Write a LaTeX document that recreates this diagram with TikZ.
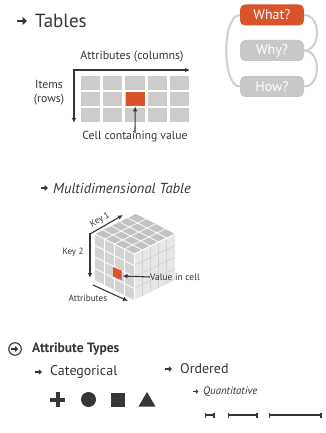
\documentclass[tikz,border=0pt]{standalone}
\usepackage{fontspec}
\setmainfont{PT Sans}
\usetikzlibrary{arrows.meta,calc}

\definecolor{accent}{HTML}{D9542A}
\definecolor{cellgrey}{HTML}{CCCCCC}
\definecolor{ink}{HTML}{363636}
\definecolor{boxgrey}{HTML}{C8C8C8}
\definecolor{loopgrey}{HTML}{CFCFCF}
\definecolor{cubetop}{HTML}{C2C2C2}
\definecolor{cubeleft}{HTML}{D3D3D3}
\definecolor{cuberight}{HTML}{E7E7E7}

% bullet arrow: start point, length, shaft width, head length, head width
\newcommand\arrowmark[5]{%
  \draw[ink, line width=#3, -{Triangle[length=#4,width=#5]}] (#1) -- ++(#2,0);}

\begin{document}
\begin{tikzpicture}[x=1pt,y=-1pt,
  txt/.style={inner sep=0pt, text=ink},
  ax/.style={draw=ink, line width=1.1pt, -{Latex[length=5pt,width=4.5pt]}},
  qbox/.style={rounded corners=5pt, minimum width=64pt, minimum height=21pt,
    inner sep=0pt, text=white, font=\fontsize{14}{14}\selectfont},
  loopline/.style={draw=loopgrey, line width=2pt},
  scalebar/.style={draw=ink, line width=1.8pt, {Bar[width=5pt]}-{Bar[width=5pt]}},
]
\useasboundingbox[fill=white] (0,0) rectangle (326,433);

% ---------- Tables ----------
\arrowmark{17,21}{10}{1.7pt}{4.5pt}{8pt}
\node[txt, anchor=base west, font=\fontsize{19}{19}\selectfont] (tabtitle) at (35,27.5) {Tables};

\foreach \c in {0,...,4}
  \foreach \r in {0,...,2}
    \fill[cellgrey] ({81+22.2*\c},{76+16.17*\r}) rectangle +(19.2,13.7);
\node[fill=accent, minimum width=19.2pt, minimum height=13.7pt, inner sep=0pt,
  anchor=north west] (cell) at (125.4,92.17) {};

\coordinate (org) at (74,70);
\coordinate (colend) at (190,70);
\coordinate (rowend) at (74,123);
\draw[ax, line cap=rect] (org) -- (colend);
\draw[ax, line cap=rect] (org) -- (rowend);

\node[txt, font=\fontsize{12}{12}\selectfont] (attrlab) at (132,57) {Attributes (columns)};
\node[txt, align=center, font=\fontsize{11.7}{14}\selectfont] (itemlab) at (49,93) {Items\\(rows)};
\node[txt, font=\fontsize{11.7}{12}\selectfont] (celllab) at (135,137) {Cell containing value};
\draw[ax] ([yshift=-1.5pt]celllab.north) -- (cell.south);

% ---------- What / Why / How ----------
\node[qbox, fill=accent] (what) at (272,15) {What?};
\node[qbox, fill=boxgrey] (why) at (272,50.5) {Why?};
\node[qbox, fill=boxgrey] (how) at (272,86.5) {How?};
\draw[loopline] (what.west) .. controls +(-18,0) and +(-18,0) .. (how.west);
\draw[loopline] (what.east) .. controls +(17,0) and +(17,0) .. (why.east);
\draw[loopline] (why.east) .. controls +(17,0) and +(17,0) .. (how.east);

% ---------- Multidimensional table ----------
\arrowmark{40.5,188}{7.5}{1.3pt}{3.5pt}{6pt}
\node[txt, anchor=west, font=\itshape\fontsize{14.5}{14.5}\selectfont] (mdtitle) at (53,188) {Multidimensional Table};

% cube faces (front corner at (134,254))
\fill[cubetop] (134,254) -- (95,234) -- (136,214) -- (175,234) -- cycle;
\fill[cubeleft] (134,254) -- (95,234) -- (95,280) -- (134,300) -- cycle;
\fill[cuberight] (134,254) -- (175,234) -- (175,280) -- (134,300) -- cycle;
% cube grid
\foreach \i in {1,2,3} {
  \draw[white!85!cubetop, line width=0.9pt] ({134-9.75*\i},{254-5*\i}) -- ++(41,-20);
  \draw[white, line width=0.9pt] ({134-9.75*\i},{254-5*\i}) -- ++(0,46);
  \draw[white, line width=0.9pt] (134,{254+11.5*\i}) -- ++(-39,-20);
  \draw[cubeleft, line width=0.8pt] (134,{254+11.5*\i}) -- ++(41,-20);
}
\foreach \j in {1,2,3,4} {
  \draw[white!85!cubetop, line width=0.9pt] ({134+8.2*\j},{254-4*\j}) -- ++(-39,-20);
  \draw[cubeleft, line width=0.8pt] ({134+8.2*\j},{254-4*\j}) -- ++(0,46);
}
\draw[white, line width=0.9pt] (95,234) -- (134,254) -- (175,234);
\draw[white, line width=0.9pt] (134,254) -- (134,300);
% highlighted cell
\fill[accent] (113,267) -- (121.5,270.5) -- (121.5,280) -- (113,276.5) -- cycle;
\coordinate (redcell) at (122.5,276);

% cube axes
\coordinate (kc) at (90,234);
\coordinate (k1end) at (123,215);
\coordinate (k2end) at (90,278);
\coordinate (a0) at (93,285);
\coordinate (a1) at (128,301);
\draw[ax, line cap=rect] (kc) -- (k1end);
\draw[ax, line cap=rect] (kc) -- (k2end);
\draw[ax] (a0) -- (a1);
\node[txt, rotate=30, font=\fontsize{9}{9}\selectfont] (key1) at (100,220) {Key 1};
\node[txt, font=\fontsize{9}{9}\selectfont] (key2) at (73,252) {Key 2};
\node[txt, font=\fontsize{9.2}{9.2}\selectfont] (attrs) at (88,298) {Attributes};
\node[txt, anchor=west, font=\fontsize{9.5}{9.5}\selectfont] (vallab) at (150,277) {Value in cell};
\draw[ax] (vallab.west) -- (redcell);

% ---------- Attribute types ----------
\node[circle, draw=ink, line width=1.1pt, minimum size=12.5pt, inner sep=0pt] (circarrow) at (15,349) {};
\arrowmark{11.3,349}{7}{1.2pt}{3.2pt}{5.5pt}
\node[txt, anchor=west, font=\bfseries\fontsize{13.5}{13.5}\selectfont] (attrtypes) at (32,349) {Attribute Types};

\arrowmark{35,372}{7}{1.2pt}{3.2pt}{5.5pt}
\node[txt, anchor=west, font=\fontsize{14}{14}\selectfont] (cattitle) at (50,372) {Categorical};
\arrowmark{165,369}{7}{1.2pt}{3.2pt}{5.5pt}
\node[txt, anchor=west, font=\fontsize{14}{14}\selectfont] (ordtitle) at (180,369) {Ordered};
\arrowmark{193,391.5}{5.5}{1pt}{2.6pt}{4.5pt}
\node[txt, anchor=west, font=\itshape\fontsize{10.8}{10.8}\selectfont] (quanttitle) at (203,391.5) {Quantitative};

% categorical marks
\fill[ink] (50,397.5) rectangle (65,401.5);
\fill[ink] (55.5,392) rectangle (59.5,407);
\fill[ink] (88.5,399.5) circle (7.5);
\fill[ink] (111,392.5) rectangle (125,406.5);
\fill[ink] (147,392) -- (155.5,406.5) -- (138.5,406.5) -- cycle;

% quantitative lengths
\coordinate (b1a) at (204.5,415); \coordinate (b1b) at (215,415);
\coordinate (b2a) at (227.5,415); \coordinate (b2b) at (258,415);
\coordinate (b3a) at (268.5,415); \coordinate (b3b) at (321.5,415);
\draw[scalebar] (b1a) -- (b1b);
\draw[scalebar] (b2a) -- (b2b);
\draw[scalebar] (b3a) -- (b3b);
\end{tikzpicture}
\end{document}
